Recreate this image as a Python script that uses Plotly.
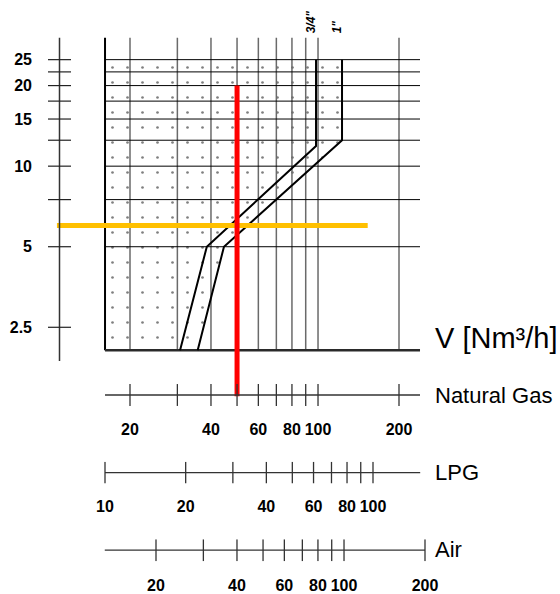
import math
import plotly.graph_objects as go

# ---------------- data ----------------
ng_tick_vals = [20, 30, 40, 50, 60, 70, 80, 90, 100, 200]
ng_label_vals = [20, 40, 60, 80, 100, 200]
lpg_tick_vals = [10, 20, 30, 40, 50, 60, 70, 80, 90, 100]
lpg_label_vals = [10, 20, 40, 60, 80, 100]
air_tick_vals = [20, 30, 40, 50, 60, 70, 80, 90, 100, 200]
air_label_vals = [20, 40, 60, 80, 100, 200]

dp_grid_vals = [5, 7.5, 10, 12.5, 15, 17.5, 20, 22.5, 25]
dp_tick_vals = [2.5, 5, 7.5, 10, 12.5, 15, 17.5, 20, 22.5, 25]
dp_label_vals = [2.5, 5, 10, 15, 20, 25]

frame_v = [16.15, 239.4]      # natural gas flow span of the chart frame
frame_dp = [2.05, 30.2]       # pressure span of the chart frame
dp_axis_span = [1.87, 30.2]
lpg_span = [10, 150]
air_span = [12.9, 200]

size_names = ['3/4"', '1"']
curve_v = {'3/4"': [30.7, 38.6, 98.3, 98.3], '1"': [35.7, 44.7, 122.8, 122.8]}
curve_dp = {'3/4"': [2.05, 5, 11.9, 25], '1"': [2.05, 5, 12.5, 25]}

read_v = 50
read_v_dp_span = [20, 1.38]
read_dp = 6.0
read_dp_v_span = [10.7, 153]

# ---------------- layout constants ----------------
W, H = 560, 594
FONT = "Liberation Sans, Arial, sans-serif"


def px_x(p):
    return p / W


def px_y(p):
    return 1 - p / H


def seg_lines(vals, lo, hi, vertical=True):
    xs, ys = [], []
    for v in vals:
        if vertical:
            xs += [v, v, None]
            ys += [lo, hi, None]
        else:
            xs += [lo, hi, None]
            ys += [v, v, None]
    return xs, ys


fig = go.Figure()

# stippled area (left of 1" curve)
poly_x = [frame_v[0], frame_v[0]] + curve_v['1"'] + [frame_v[0]]
poly_y = [dp_grid_vals[-1], frame_dp[0]] + curve_dp['1"'] + [dp_grid_vals[-1]]
fig.add_trace(go.Scatter(
    x=poly_x, y=poly_y, mode="lines", fill="toself",
    line=dict(width=0, color="rgba(0,0,0,0)"),
    fillcolor="white",
    fillpattern=dict(shape=".", size=15, solidity=0.025, fgcolor="black", bgcolor="white"),
    hoverinfo="skip", showlegend=False))

# vertical grid
gx, gy = seg_lines(ng_tick_vals, frame_dp[0], frame_dp[1], vertical=True)
fig.add_trace(go.Scatter(x=gx, y=gy, mode="lines", line=dict(color="#6a6a6a", width=1.5),
                         hoverinfo="skip", showlegend=False))
# horizontal grid
hx, hy = seg_lines(dp_grid_vals, frame_v[0], frame_v[1], vertical=False)
fig.add_trace(go.Scatter(x=hx, y=hy, mode="lines", line=dict(color="black", width=1),
                         hoverinfo="skip", showlegend=False))
# left frame
fig.add_trace(go.Scatter(x=[frame_v[0], frame_v[0]], y=frame_dp, mode="lines",
                         line=dict(color="black", width=2), hoverinfo="skip", showlegend=False))
# bottom frame
fig.add_trace(go.Scatter(x=frame_v, y=[frame_dp[0], frame_dp[0]], mode="lines",
                         line=dict(color="#2a2a2a", width=2.5), hoverinfo="skip", showlegend=False))

# pipe curves
for name in size_names:
    fig.add_trace(go.Scatter(x=curve_v[name], y=curve_dp[name], mode="lines",
                             line=dict(color="black", width=2), hoverinfo="skip", showlegend=False))

# reading lines
fig.add_trace(go.Scatter(x=read_dp_v_span, y=[read_dp, read_dp], mode="lines",
                         line=dict(color="#ffc000", width=5), hoverinfo="skip", showlegend=False))
fig.add_trace(go.Scatter(x=[read_v, read_v], y=read_v_dp_span, mode="lines",
                         line=dict(color="#ff0000", width=5), hoverinfo="skip", showlegend=False))

# left pressure axis (x4 / y)
ax_x, ax_y = seg_lines(dp_tick_vals, -1, 1, vertical=False)
fig.add_trace(go.Scatter(x=[0, 0], y=dp_axis_span, xaxis="x4", yaxis="y", mode="lines",
                         line=dict(color="#333333", width=1.5), hoverinfo="skip", showlegend=False))
fig.add_trace(go.Scatter(x=ax_x, y=ax_y, xaxis="x4", yaxis="y", mode="lines",
                         line=dict(color="#222222", width=1.2), hoverinfo="skip", showlegend=False))

# bottom scales
scales = [
    ("x", "y2", frame_v, ng_tick_vals),
    ("x2", "y3", lpg_span, lpg_tick_vals),
    ("x3", "y4", air_span, air_tick_vals),
]
for xa, ya, span, ticks in scales:
    fig.add_trace(go.Scatter(x=span, y=[0, 0], xaxis=xa, yaxis=ya, mode="lines",
                             line=dict(color="#333333", width=1.3), hoverinfo="skip", showlegend=False))
    tx, ty = seg_lines(ticks, -1, 1, vertical=True)
    fig.add_trace(go.Scatter(x=tx, y=ty, xaxis=xa, yaxis=ya, mode="lines",
                             line=dict(color="#333333", width=1.3), hoverinfo="skip", showlegend=False))

# ---------- axes ----------
tickfont = dict(family=FONT, size=16, color="black")
bold = lambda v: "<b>%s</b>" % (("%g" % v))

ng_range = [math.log10(20) + (0 - 130) / 269, math.log10(20) + (W - 130) / 269]
lpg_range = [1 + (0 - 105) / 268, 1 + (W - 105) / 268]
air_range = [math.log10(20) + (0 - 156) / 269, math.log10(20) + (W - 156) / 269]
dp_range = [1 - (H - 167) / 269, 1 + 167 / 269]

common_x = dict(showgrid=False, zeroline=False, showline=False, ticks="", fixedrange=True)

fig.update_layout(
    width=W, height=H, margin=dict(l=0, r=0, t=0, b=0),
    paper_bgcolor="white", plot_bgcolor="rgba(0,0,0,0)",
    showlegend=False,
    xaxis=dict(type="log", range=ng_range, domain=[0, 1], anchor="free", position=px_y(420),
               tickvals=ng_label_vals, ticktext=[bold(v) for v in ng_label_vals],
               tickfont=tickfont, **common_x),
    yaxis=dict(type="log", range=dp_range, domain=[0, 1], anchor="free", position=px_x(32),
               tickvals=dp_label_vals, ticktext=[bold(v) for v in dp_label_vals],
               tickfont=tickfont, showgrid=False, zeroline=False, showline=False, ticks=""),
    xaxis2=dict(type="log", range=lpg_range, domain=[0, 1], anchor="free", position=px_y(498),
                tickvals=lpg_label_vals, ticktext=[bold(v) for v in lpg_label_vals],
                tickfont=tickfont, **common_x),
    xaxis3=dict(type="log", range=air_range, domain=[0, 1], anchor="free", position=px_y(577),
                tickvals=air_label_vals, ticktext=[bold(v) for v in air_label_vals],
                tickfont=tickfont, **common_x),
    xaxis4=dict(range=[-1, 1], domain=[px_x(48), px_x(71)], anchor="y", visible=False),
    yaxis2=dict(range=[-1, 1], domain=[px_y(408), px_y(386)], anchor="x", visible=False),
    yaxis3=dict(range=[-1, 1], domain=[px_y(486), px_y(464)], anchor="x2", visible=False),
    yaxis4=dict(range=[-1, 1], domain=[px_y(564), px_y(542)], anchor="x3", visible=False),
)

# ---------- text ----------
fig.add_annotation(x=px_x(433), y=px_y(340), xref="paper", yref="paper", text="V [Nm³/h]",
                   showarrow=False, xanchor="left", yanchor="middle",
                   font=dict(family=FONT, size=29, color="black"))
for label, ypx in [("Natural Gas", 398), ("LPG", 475), ("Air", 552)]:
    fig.add_annotation(x=px_x(433), y=px_y(ypx), xref="paper", yref="paper", text=label,
                       showarrow=False, xanchor="left", yanchor="middle",
                       font=dict(family=FONT, size=22, color="black"))
for name in size_names:
    fig.add_annotation(x=math.log10(curve_v[name][-1]), y=px_y(36), xref="x", yref="paper",
                       text="<b><i>%s</i></b>" % name, showarrow=False, textangle=-90,
                       xanchor="center", yanchor="bottom", xshift=-5,
                       font=dict(family=FONT, size=12, color="black"))

fig.write_html("out.html")
